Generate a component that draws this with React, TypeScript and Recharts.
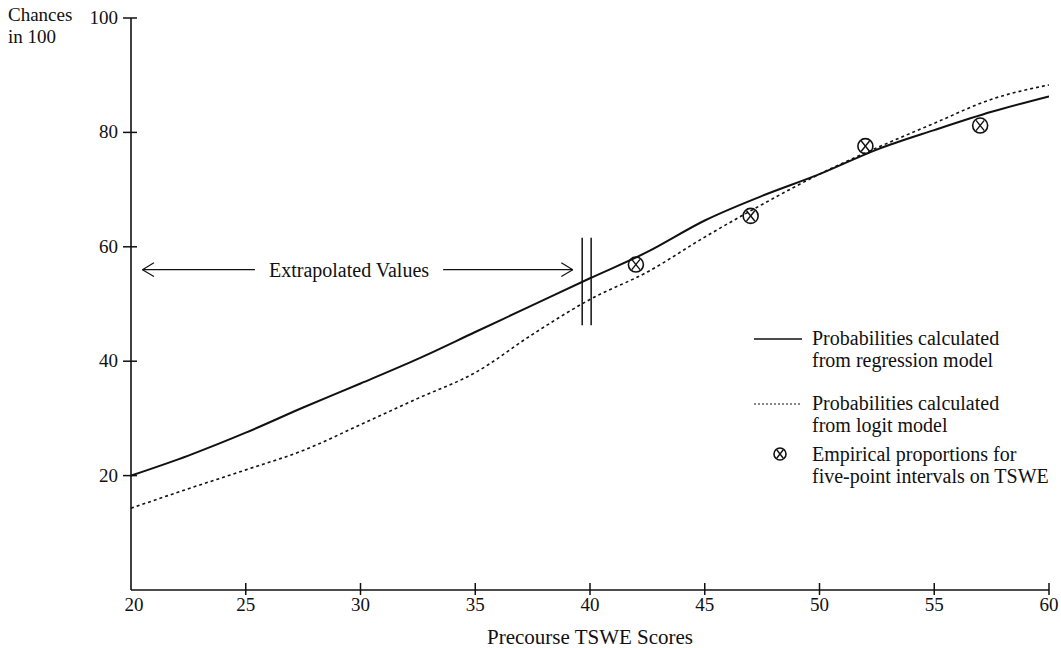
import React from "react";
import {
  ComposedChart, Line, Scatter, XAxis, YAxis, ReferenceLine,
} from "recharts";

// TSWE score grid and the two fitted probability curves (chances in 100)
const scores = [20, 22.5, 25, 27.5, 30, 32.5, 35, 37.5, 40, 42.5, 45, 47.5, 50, 52.5, 55, 57.5, 60];
const regression = [20, 23.5, 27.5, 31.9, 36.1, 40.4, 45.1, 49.8, 54.5, 59.1, 64.6, 68.9, 72.7, 77, 80.4, 83.6, 86.3];
const logit = [14.3, 17.7, 21, 24.4, 28.9, 33.5, 38, 44.7, 50.8, 55.6, 61.7, 67.4, 72.7, 77.3, 81.6, 85.8, 88.3];

// empirical proportions for five-point intervals
const empiricalX = [42, 47, 52, 57];
const empiricalY = [56.9, 65.4, 77.6, 81.2];

const xTicks = [20, 25, 30, 35, 40, 45, 50, 55, 60];
const yTicks = [20, 40, 60, 80, 100];

const FONT = "'Liberation Serif', 'Times New Roman', serif";
const INK = "#111";

const curveData = scores.map((x, i) => ({ x, regression: regression[i], logit: logit[i] }));
const pointData = empiricalX.map((x, i) => ({ x, y: empiricalY[i] }));

function XTick({ x, y, payload }: any) {
  return (
    <g>
      {payload.value !== 20 && <line x1={x} x2={x} y1={y - 7} y2={y + 5} stroke={INK} strokeWidth={1.5} />}
      <text x={payload.value === 20 ? x + 3 : x} y={y + 21} textAnchor="middle" fontFamily={FONT} fontSize={19} fill={INK}>
        {payload.value}
      </text>
    </g>
  );
}

function YTick({ x, y, payload }: any) {
  return (
    <g>
      <line x1={x - 8} x2={x + 6} y1={y} y2={y} stroke={INK} strokeWidth={1.5} />
      <text x={x - 13} y={y + 6} textAnchor="end" fontFamily={FONT} fontSize={19} fill={INK}>
        {payload.value}
      </text>
    </g>
  );
}

function CrossCircle({ cx, cy, r = 7.5 }: any) {
  const d = r * 0.55;
  return (
    <g>
      <circle cx={cx} cy={cy} r={r} fill="none" stroke={INK} strokeWidth={1.6} />
      <line x1={cx - d} y1={cy - d - 1} x2={cx + d} y2={cy + d + 1} stroke={INK} strokeWidth={1.4} />
      <line x1={cx + d} y1={cy - d - 1} x2={cx - d} y2={cy + d + 1} stroke={INK} strokeWidth={1.4} />
    </g>
  );
}

function LegendBox() {
  const txt: React.CSSProperties = { fontFamily: FONT, fontSize: 20, color: INK, lineHeight: "22px" };
  const row = (top: number): React.CSSProperties => ({ position: "absolute", left: 0, top, display: "flex", alignItems: "flex-start", whiteSpace: "nowrap" });
  return (
    <div style={{ ...txt, position: "absolute", left: 754, top: 327 }}>
      <div style={row(0)}>
        <svg width={58} height={22}><line x1={0} x2={48} y1={12} y2={12} stroke={INK} strokeWidth={1.5} /></svg>
        <div>Probabilities calculated<br />from regression model</div>
      </div>
      <div style={row(65)}>
        <svg width={58} height={22}><line x1={0} x2={48} y1={12} y2={12} stroke={INK} strokeWidth={1.2} strokeDasharray="2 2" /></svg>
        <div>Probabilities calculated<br />from logit model</div>
      </div>
      <div style={row(116)}>
        <svg width={58} height={22}><CrossCircle cx={26} cy={11} r={6} /></svg>
        <div>Empirical proportions for<br />five-point intervals on TSWE</div>
      </div>
    </div>
  );
}

export default function App() {
  return (
    <div style={{ position: "absolute", left: 0, top: 0, width: 1061, height: 648, background: "#fff" }}>
      <div style={{ position: "absolute", left: 8, top: 4, fontFamily: FONT, fontSize: 19, lineHeight: "22px", color: INK }}>
        Chances<br />in 100
      </div>
      <ComposedChart width={1061} height={648} margin={{ top: 18, right: 12, left: 0, bottom: 0 }}>
        <XAxis
          dataKey="x" type="number" domain={[20, 60]} ticks={xTicks} allowDataOverflow
          height={58} axisLine={{ stroke: INK, strokeWidth: 1.6 }} tickLine={false} tickSize={0} tickMargin={0}
          tick={<XTick />}
          label={{ value: "Precourse TSWE Scores", position: "insideBottom", offset: 4, fontFamily: FONT, fontSize: 21, fill: INK }}
        />
        <YAxis
          type="number" domain={[0, 100]} ticks={yTicks} width={131}
          axisLine={{ stroke: INK, strokeWidth: 1.6 }} tickLine={false} tickSize={0} tickMargin={0}
          tick={<YTick />}
        />

        {/* extrapolated-values arrow */}
        <ReferenceLine segment={[{ x: 20.5, y: 56 }, { x: 25.4, y: 56 }]} stroke={INK} strokeWidth={1.2} />
        <ReferenceLine segment={[{ x: 33.6, y: 56 }, { x: 39.25, y: 56 }]} stroke={INK} strokeWidth={1.2} />
        <ReferenceLine segment={[{ x: 20.5, y: 56 }, { x: 21.0, y: 57.2 }]} stroke={INK} strokeWidth={1.2} />
        <ReferenceLine segment={[{ x: 20.5, y: 56 }, { x: 21.0, y: 54.8 }]} stroke={INK} strokeWidth={1.2} />
        <ReferenceLine segment={[{ x: 39.25, y: 56 }, { x: 38.75, y: 57.2 }]} stroke={INK} strokeWidth={1.2} />
        <ReferenceLine segment={[{ x: 39.25, y: 56 }, { x: 38.75, y: 54.8 }]} stroke={INK} strokeWidth={1.2} />
        <ReferenceLine
          segment={[{ x: 25.4, y: 56 }, { x: 33.6, y: 56 }]} stroke="none"
          label={{ value: "Extrapolated Values", position: "center", fontFamily: FONT, fontSize: 20, fill: INK }}
        />

        <Line data={curveData} dataKey="regression" type="monotone" stroke={INK} strokeWidth={2} dot={false} isAnimationActive={false} />
        <Line data={curveData} dataKey="logit" type="monotone" stroke={INK} strokeWidth={1.6} strokeDasharray="3 3" dot={false} isAnimationActive={false} />

        {/* break marks at the end of the observed range */}
        <ReferenceLine segment={[{ x: 39.66, y: 46.3 }, { x: 39.66, y: 61.6 }]} stroke={INK} strokeWidth={1.5} />
        <ReferenceLine segment={[{ x: 40.05, y: 46.3 }, { x: 40.05, y: 61.6 }]} stroke={INK} strokeWidth={1.5} />

        <Scatter data={pointData} dataKey="y" shape={<CrossCircle />} isAnimationActive={false} />
      </ComposedChart>
      <LegendBox />
    </div>
  );
}
